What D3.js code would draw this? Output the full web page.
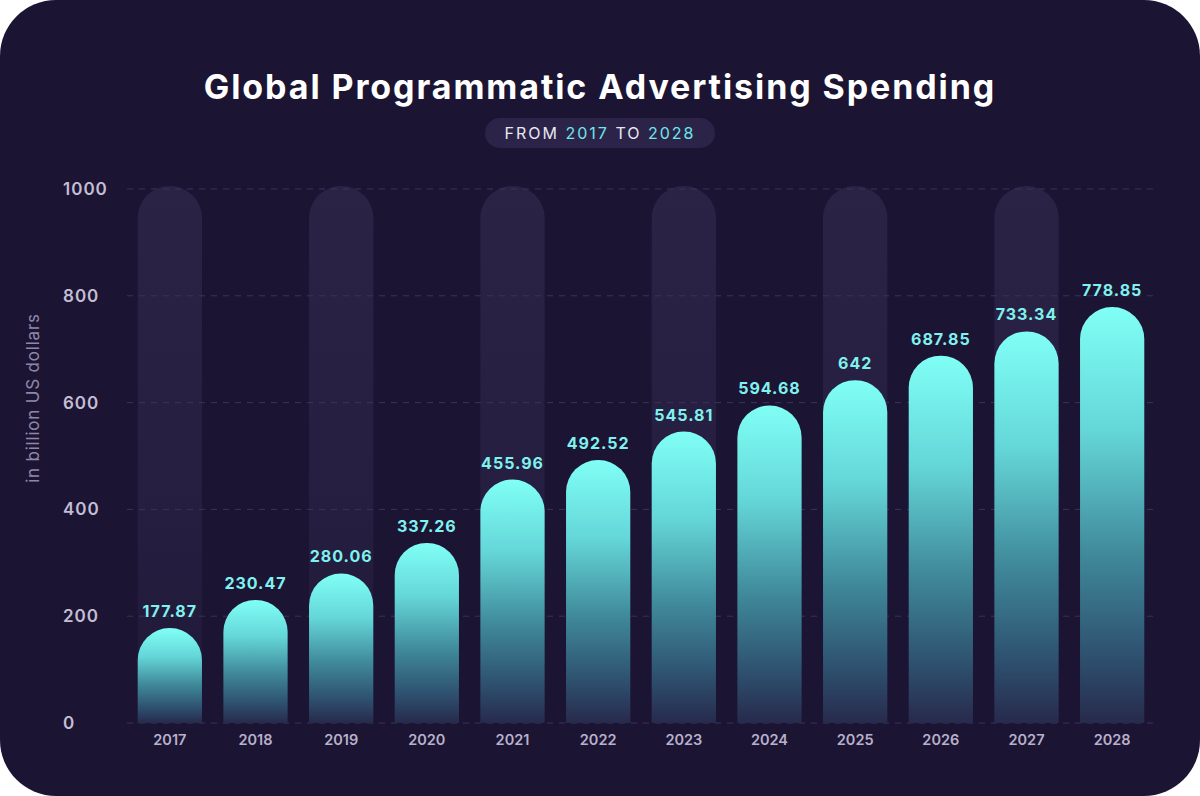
<!DOCTYPE html>
<html><head><meta charset="utf-8">
<script src="https://cdn.jsdelivr.net/npm/d3@7"></script>
<style>
html,body{margin:0;padding:0;background:#ffffff;}
svg{display:block;}
</style></head>
<body>
<svg id="chart" width="1200" height="796"></svg>
<script>
const years = ["2017","2018","2019","2020","2021","2022","2023","2024","2025","2026","2027","2028"];
const spending = [177.87,230.47,280.06,337.26,455.96,492.52,545.81,594.68,642,687.85,733.34,778.85];
const valueLabels = ["177.87","230.47","280.06","337.26","455.96","492.52","545.81","594.68","642","687.85","733.34","778.85"];
const yTicks = [0,200,400,600,800,1000];
const titleText = "Global Programmatic Advertising Spending";
const subtitleParts = [["FROM ", false],["2017", true],[" TO ", false],["2028", true]];
const yAxisTitle = "in billion US dollars";

const W = 1200, H = 796;
const svg = d3.select("#chart");
const defs = svg.append("defs");

const bg = "#1c1433";
svg.append("rect").attr("x",0).attr("y",0).attr("width",W).attr("height",H).attr("rx",56).attr("ry",56).attr("fill",bg);

// gradients
const g1 = defs.append("linearGradient").attr("id","barGrad").attr("x1",0).attr("y1",0).attr("x2",0).attr("y2",1);
[[0,"#80fff6"],[0.3,"#64d6d8"],[0.6,"#3f8899"],[0.82,"#2f5573"],[1,"#272a4c"]].forEach(s=>g1.append("stop").attr("offset",s[0]).attr("stop-color",s[1]));
const g2 = defs.append("linearGradient").attr("id","trackGrad").attr("x1",0).attr("y1",0).attr("x2",0).attr("y2",1);
[[0,"#2a2345"],[0.6,"#251e40"],[1,"#1f1838"]].forEach(s=>g2.append("stop").attr("offset",s[0]).attr("stop-color",s[1]));

const x = d3.scaleBand().domain(years).range([127,1155]).paddingInner(0.25).paddingOuter(0.125);
const y = d3.scaleLinear().domain([0,1000]).range([723,189]);
const bw = x.bandwidth();
const r = 32;

function topRoundedArc(x0, y0, w, h, rr){
  rr = Math.min(rr, w/2, h);
  return `M${x0},${y0+h}V${y0+rr}A${rr},${rr} 0 0 1 ${x0+rr},${y0}H${x0+w-rr}A${rr},${rr} 0 0 1 ${x0+w},${y0+rr}V${y0+h}Z`;
}

// tracks on alternate columns
svg.append("g").selectAll("path").data(years.filter((d,i)=>i%2===0)).join("path")
  .attr("d", d => topRoundedArc(x(d), y(1000)-3, bw, y(0)-y(1000)+3, r))
  .attr("fill","url(#trackGrad)");

// gridlines
svg.append("g").selectAll("line").data(yTicks).join("line")
  .attr("x1",127).attr("x2",1157).attr("y1",d=>y(d)).attr("y2",d=>y(d))
  .attr("stroke","#3a3457").attr("stroke-width",1).attr("stroke-dasharray","6,6");

// y tick labels
svg.append("g").selectAll("text").data(yTicks).join("text")
  .attr("x",63).attr("y",d=>y(d)+6)
  .attr("fill","#c3bed4").attr("font-family","Inter, 'Open Sans', sans-serif")
  .attr("font-size",17).attr("font-weight",600).attr("letter-spacing","1px")
  .text(d=>d);

// y axis title
svg.append("text").attr("transform","translate(39,398) rotate(-90)")
  .attr("text-anchor","middle").attr("fill","#8e88a8")
  .attr("font-family","Inter, 'Open Sans', sans-serif").attr("font-size",17).attr("font-weight",400).attr("letter-spacing","0.8px")
  .text(yAxisTitle);

// bars
svg.append("g").selectAll("path").data(years).join("path")
  .attr("d",(d,i)=>topRoundedArc(x(d), y(spending[i]), bw, y(0)-y(spending[i]), r))
  .attr("fill","url(#barGrad)");

// value labels
svg.append("g").selectAll("text").data(years).join("text")
  .attr("x",d=>x(d)+bw/2).attr("y",(d,i)=>y(spending[i])-11)
  .attr("text-anchor","middle").attr("fill","#7ff2ef")
  .attr("font-family","Inter, 'Open Sans', sans-serif").attr("font-size",16).attr("font-weight",700).attr("letter-spacing","1px")
  .text((d,i)=>valueLabels[i]);

// x labels
svg.append("g").selectAll("text").data(years).join("text")
  .attr("x",d=>x(d)+bw/2).attr("y",745)
  .attr("text-anchor","middle").attr("fill","#b8b1cb")
  .attr("font-family","Inter, 'Open Sans', sans-serif").attr("font-size",14.5).attr("font-weight",600)
  .text(d=>d);

// title
svg.append("text").attr("x",600).attr("y",99).attr("text-anchor","middle")
  .attr("fill","#ffffff").attr("font-family","Inter, 'Open Sans', sans-serif")
  .attr("font-size",34).attr("font-weight",700).attr("letter-spacing","1.9px")
  .text(titleText);

// subtitle pill
svg.append("rect").attr("x",485).attr("y",118).attr("width",230).attr("height",30).attr("rx",15)
  .attr("fill","#2b2448");
const st = svg.append("text").attr("x",600).attr("y",139).attr("text-anchor","middle")
  .attr("font-family","Inter, 'Open Sans', sans-serif").attr("font-size",16).attr("font-weight",400).attr("letter-spacing","2px");
subtitleParts.forEach(p=>st.append("tspan").attr("fill",p[1]?"#6fe6ec":"#e9e6f2").text(p[0]));
</script>
</body></html>
